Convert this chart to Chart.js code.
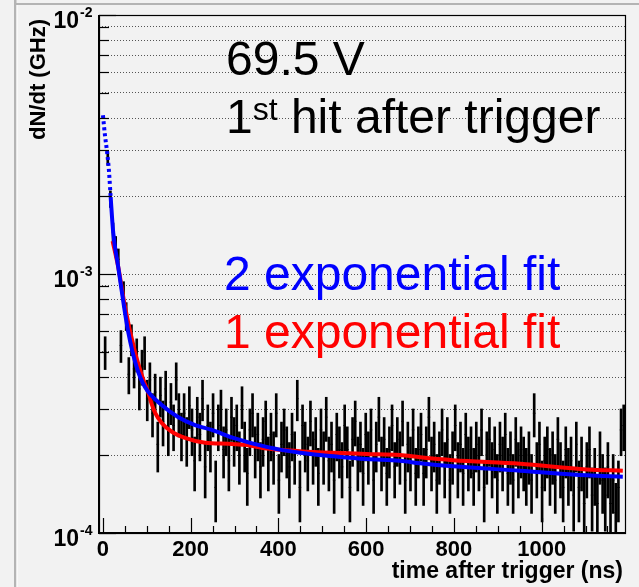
<!DOCTYPE html>
<html>
<head>
<meta charset="utf-8">
<title>dN/dt after trigger</title>
<script src="https://cdn.jsdelivr.net/npm/chart.js@4.4.1/dist/chart.umd.min.js"></script>
<style>
  html, body { margin: 0; padding: 0; background: #f2f2f2; }
  canvas { display: block; }
</style>
</head>
<body>
<canvas id="chart" width="639" height="587"></canvas>
<script>
// histogram: 6 ns bins, first filled bin centred at 5 ns
const binStart = 5;
const binWidth = 6;
// dN/dt per bin, in units of 1e-4 GHz
const rateE4 = [
  5.0, 28, 19.5, 14.5, 12.8, 11.4, 5.3, 8.4, 6.9, 4.1,
  5.6, 4.3, 4.9, 3.6, 4.4, 5.0, 3.3, 3.9, 2.9, 3.5,
  2.2, 3.4, 2.7, 3.6, 2.5, 3.2, 2.6, 3.9, 2.9, 2.4,
  2.9, 2.3, 3.1, 2.5, 1.9, 2.8, 2.4, 3.3, 1.8, 2.6,
  2.2, 2.9, 1.5, 2.6, 3.0, 2.1, 2.5, 1.9, 2.8, 2.3,
  2.6, 2.0, 3.1, 2.2, 1.7, 2.5, 2.9, 2.1, 2.4, 1.8,
  2.3, 2.7, 1.9, 2.4, 2.0, 2.9, 1.6, 2.2, 2.5, 2.1,
  1.8, 2.4, 2.0, 3.3, 1.5, 2.6, 2.2, 1.9, 2.7, 2.0,
  2.3, 1.7, 2.5, 2.0, 2.8, 1.9, 2.2, 1.6, 2.4, 2.1,
  1.8, 2.6, 2.1, 1.5, 2.3, 2.7, 1.9, 2.2, 1.7, 2.4,
  2.0, 2.5, 1.6, 2.2, 2.8, 1.9, 2.3, 1.7, 2.1, 2.6,
  1.8, 2.3, 2.0, 2.7, 1.6, 2.2, 1.9, 2.5, 1.7, 2.1,
  2.4, 1.7, 2.1, 2.8, 1.9, 2.2, 1.6, 2.0, 2.5, 1.8,
  2.3, 1.6, 2.0, 2.6, 1.8, 2.2, 1.7, 2.4, 1.9, 2.1,
  1.7, 2.2, 1.9, 2.5, 1.5, 2.0, 2.3, 1.8, 2.1, 1.6,
  2.2, 1.9, 2.4, 1.7, 2.0, 1.6, 2.3, 1.8, 2.1, 1.9,
  1.7, 2.0, 1.6, 2.9, 1.8, 2.2, 1.5, 1.9, 2.1, 1.7,
  2.0, 1.6, 2.3, 1.8, 1.5, 2.1, 1.7, 1.9, 1.4, 2.2,
  1.5, 1.9, 1.3, 1.8, 2.1, 1.4, 1.7, 1.3, 2.0, 1.6,
  1.4, 1.8, 1.3, 1.6, 1.2, 1.5, 2.5, 2.6
];
const errScale = 1.05e-5; // counting error: err = sqrt(rate * errScale)

// fit curves (time in ns, rate in 1e-4 GHz)
const fit2Time = [0, 4.5, 9, 13.7, 17.6, 23.5, 35, 46, 57.7, 76.9, 95.8, 134, 172, 210, 248, 297, 373, 449, 525, 601, 677, 723, 798, 951, 1103, 1185];
const fit2Rate = [41, 34.4, 30, 25, 19.8, 14.4, 10.6, 7.9, 5.97, 4.37, 3.66, 3.12, 2.80, 2.61, 2.50, 2.33, 2.15, 2.04, 1.98, 1.93, 1.90, 1.86, 1.81, 1.74, 1.67, 1.65];
const fit2DottedUntil = 18;
const fit1Time = [22, 35, 50, 73, 90, 96, 103, 111, 119, 134, 157, 187, 233, 286, 324, 373, 449, 525, 601, 677, 723, 798, 951, 1103, 1185];
const fit1Rate = [13.4, 10.6, 7.5, 5.0, 4.0, 3.75, 3.5, 3.15, 2.91, 2.66, 2.46, 2.33, 2.23, 2.21, 2.19, 2.12, 2.07, 2.04, 2.02, 2.0, 1.96, 1.91, 1.85, 1.76, 1.74];

const xMajorTicks = [0, 200, 400, 600, 800, 1000];
const xMinorStep = 50;
const yTickValues = [1e-4, 2e-4, 3e-4, 4e-4, 5e-4, 6e-4, 7e-4, 8e-4, 9e-4,
                     1e-3, 2e-3, 3e-3, 4e-3, 5e-3, 6e-3, 7e-3, 8e-3, 9e-3, 1e-2];
const yMajorTicks = [1e-4, 1e-3, 1e-2];

const binTimes = rateE4.map((_, i) => binStart + i * binWidth);
const rates = rateE4.map((v) => v * 1e-4);
const errBars = rates.map((r, i) => {
  const e = Math.sqrt(r * errScale);
  return { x: binTimes[i], y: [r - e, r + e] };
});
const centres = rates.map((r, i) => ({ x: binTimes[i], y: r }));
const fit2 = fit2Time.map((t, i) => ({ x: t, y: fit2Rate[i] * 1e-4 }));
const fit1 = fit1Time.map((t, i) => ({ x: t, y: fit1Rate[i] * 1e-4 }));

const rootFrame = {
  id: "rootFrame",
  beforeDraw(chart) {
    const c = chart.ctx;
    c.save();
    c.fillStyle = "#f2f2f2";
    c.fillRect(0, 0, chart.width, chart.height);
    // pad border
    c.fillStyle = "#b4b4b4";
    c.fillRect(14, 0, 2.5, chart.height);
    c.fillRect(16, 3, chart.width - 16, 2);
    c.fillStyle = "#ffffff";
    c.fillRect(16.5, 5, 1, chart.height - 5);
    c.restore();
  },
  afterDraw(chart) {
    const c = chart.ctx;
    const xs = chart.scales.x;
    const ys = chart.scales.y;
    const a = chart.chartArea;
    c.save();
    c.strokeStyle = "#000";

    // x ticks (pointing up into the frame)
    c.lineWidth = 1.2;
    for (let t = 0; t <= 1150; t += xMinorStep) {
      const px = Math.round(xs.getPixelForValue(t)) + 0.5;
      const len = xMajorTicks.includes(t) ? 15 : 7;
      c.beginPath();
      c.moveTo(px, a.bottom);
      c.lineTo(px, a.bottom - len);
      c.stroke();
    }
    // y ticks
    yTickValues.forEach((v) => {
      const py = Math.round(ys.getPixelForValue(v)) + 0.5;
      const len = yMajorTicks.includes(v) ? 17 : 10;
      c.beginPath();
      c.moveTo(a.left, py);
      c.lineTo(a.left + len, py);
      c.stroke();
    });

    // frame
    c.lineWidth = 1.2;
    c.strokeRect(a.left + 0.5, a.top + 0.5, a.right - a.left, a.bottom - a.top);
    c.lineWidth = 2;
    c.beginPath();
    c.moveTo(a.left, a.top);
    c.lineTo(a.left, a.bottom);
    c.lineTo(a.right, a.bottom);
    c.stroke();

    // x tick labels
    c.fillStyle = "#000";
    c.font = "bold 22px 'Liberation Sans', Arial, sans-serif";
    c.textAlign = "center";
    c.textBaseline = "alphabetic";
    xMajorTicks.forEach((t) => {
      c.fillText(String(t), xs.getPixelForValue(t), 556);
    });
    // y tick labels 10^n
    yMajorTicks.forEach((v) => {
      const py = ys.getPixelForValue(v);
      c.font = "bold 23px 'Liberation Sans', Arial, sans-serif";
      c.textAlign = "right";
      c.fillText("10", 79, py + 13);
      c.font = "bold 14px 'Liberation Sans', Arial, sans-serif";
      c.textAlign = "left";
      c.fillText(String(Math.round(Math.log10(v))), 80, py + 2);
    });

    // axis titles
    c.font = "bold 23px 'Liberation Sans', Arial, sans-serif";
    c.textAlign = "right";
    c.fillText("time after trigger (ns)", 623, 578);
    c.save();
    c.translate(45, 140);
    c.rotate(-Math.PI / 2);
    c.textAlign = "left";
    c.font = "bold 22px 'Liberation Sans', Arial, sans-serif";
    c.fillText("dN/dt (GHz)", 0, 0);
    c.restore();

    // annotations
    const big = "48px 'Liberation Sans', Arial, sans-serif";
    c.textAlign = "left";
    c.font = big;
    c.fillText("69.5 V", 226, 75);
    c.fillText("1", 226, 133);
    let x = 226 + c.measureText("1").width;
    c.font = "32px 'Liberation Sans', Arial, sans-serif";
    c.fillText("st", x, 120);
    x += c.measureText("st").width;
    c.font = big;
    c.fillText(" hit after trigger", x, 133);
    c.fillStyle = "#0000ff";
    c.fillText("2 exponential fit", 224, 290);
    c.fillStyle = "#ff0000";
    c.fillText("1 exponential fit", 224, 348);
    c.restore();
  }
};

new Chart(document.getElementById("chart").getContext("2d"), {
  type: "bar",
  data: {
    datasets: [
      {
        type: "line",
        label: "2 exponential fit",
        data: fit2,
        borderColor: "#0000ff",
        borderWidth: 4,
        pointRadius: 0,
        cubicInterpolationMode: "monotone",
        segment: {
          borderDash: (ctx) => (ctx.p1.parsed.x <= fit2DottedUntil ? [3, 3] : undefined),
        },
        order: 0,
      },
      {
        type: "line",
        label: "1 exponential fit",
        data: fit1,
        borderColor: "#ff0000",
        borderWidth: 4,
        pointRadius: 0,
        cubicInterpolationMode: "monotone",
        order: 1,
      },
      {
        type: "line",
        label: "bin centres",
        data: centres,
        showLine: false,
        pointStyle: "line",
        pointRadius: 1.3,
        borderColor: "#000",
        borderWidth: 1,
        order: 2,
      },
      {
        type: "bar",
        label: "data",
        data: errBars,
        backgroundColor: "#000",
        borderWidth: 0,
        barThickness: 2,
        order: 3,
      },
    ],
  },
  options: {
    responsive: false,
    animation: false,
    events: [],
    layout: { padding: { top: 15, right: 14, left: 0, bottom: 0 } },
    plugins: { legend: { display: false }, tooltip: { enabled: false } },
    scales: {
      x: {
        type: "linear",
        min: -9,
        max: 1190,
        offset: false,
        grid: { display: false },
        border: { display: false },
        ticks: { display: false },
        afterFit: (s) => { s.height = 54; },
      },
      y: {
        type: "logarithmic",
        min: 1e-4,
        max: 1e-2,
        grid: { color: "#555", lineWidth: 1, drawTicks: false },
        border: { display: false, dash: [1, 2] },
        ticks: { display: false },
        afterBuildTicks: (s) => { s.ticks = yTickValues.map((v) => ({ value: v })); },
        afterFit: (s) => { s.width = 99; },
      },
    },
  },
  plugins: [rootFrame],
});
</script>
</body>
</html>
